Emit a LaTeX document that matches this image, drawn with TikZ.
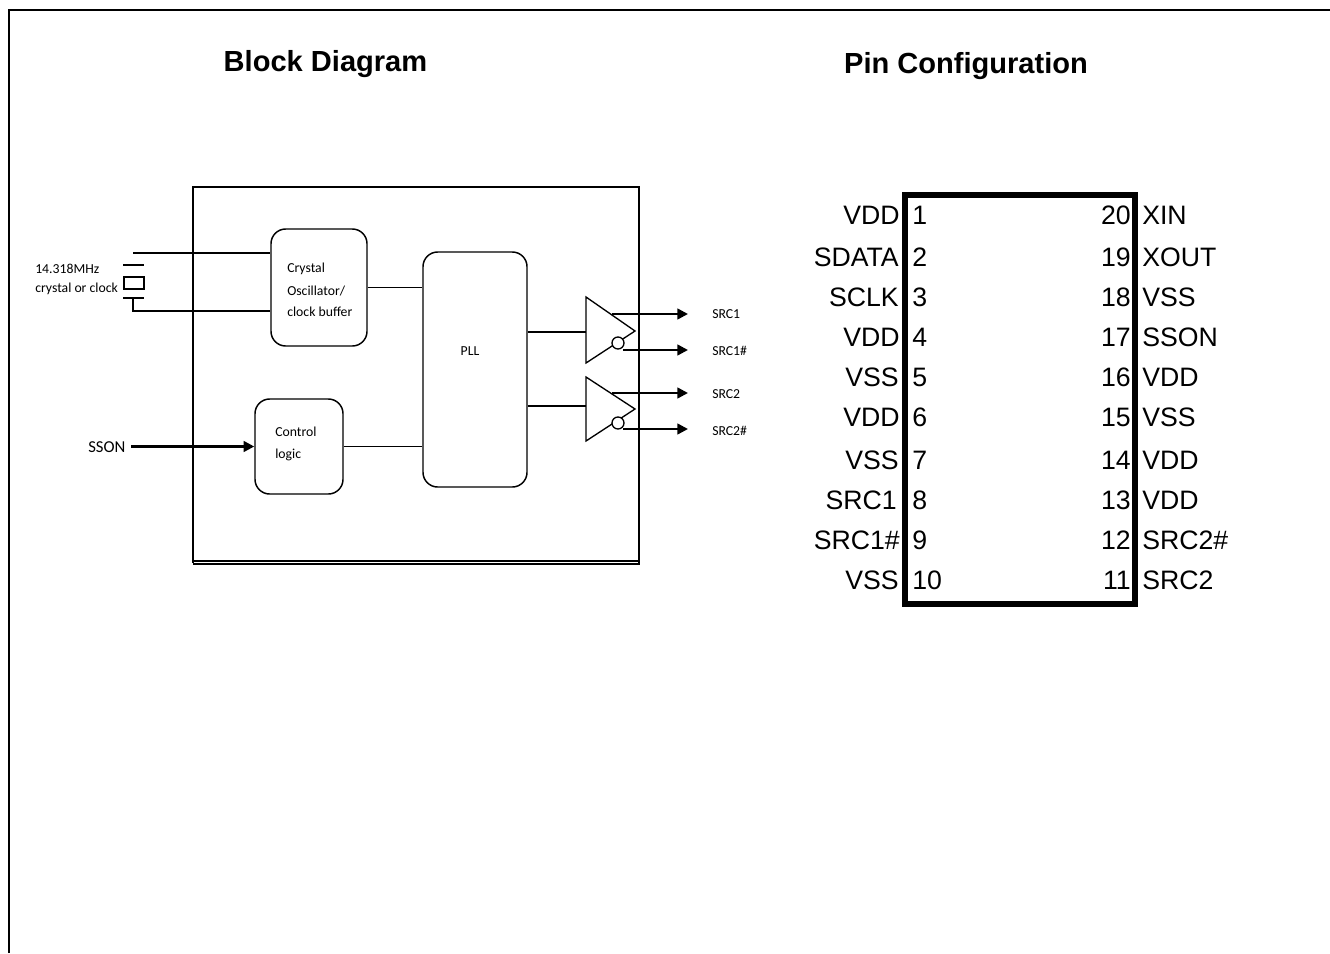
\documentclass[tikz,border=0pt]{standalone}
\usepackage{fontspec}
\setmainfont{Liberation Sans}
\newfontfamily\smallfont{Carlito}
\usetikzlibrary{arrows.meta, positioning}
\tikzset{
  thinline/.style={line width=1pt},
  signal/.style={line width=1.8pt, ->},
  blockbox/.style={draw, line width=1.1pt, rounded corners=11pt, inner sep=0pt},
  smalltext/.style={font=\smallfont\fontsize{10.3}{12}\selectfont, inner sep=0pt},
  pintext/.style={font=\fontsize{20}{20}\selectfont, inner sep=0pt, text height=14pt, text depth=0pt},
  leftlabel/.style={pintext, anchor=east},
  rightlabel/.style={pintext, anchor=west},
  titletext/.style={font=\bfseries\fontsize{21.8}{22}\selectfont, inner sep=0pt}
}
\begin{document}
\begin{tikzpicture}[x=0.75pt, y=-0.75pt, >={Stealth[length=8pt,width=8pt,inset=0pt]}]
      \useasboundingbox (0,0) rectangle (1330,953);
      % page frame and titles
      \draw[line width=1.5pt] (9,953) -- (9,10) -- (1330,10);
      \node[titletext] (blocktitle) at (325.5,64) {Block Diagram};
      \node[titletext] (pintitle) at (966,66) {Pin Configuration};

      % block diagram
      \draw[thinline] (193,563) -- (193,187) -- (639,187) -- (639,563);
      \draw[thinline] (193,561) -- (639,561);
      \draw[line width=1.5pt] (193,564) -- (640,564);
      \node[blockbox, minimum width=72pt, minimum height=87.75pt] (xtal) at (319,287.5) {};
      \node[blockbox, minimum width=66pt, minimum height=71.25pt] (ctrl) at (299,446.5) {};
      \node[blockbox, minimum width=78pt, minimum height=176.25pt] (pll) at (475,369.5) {};
      \node[smalltext, anchor=west] (xtala) at (287,269) {Crystal};
      \node[smalltext, anchor=west] (xtalb) at (287,291) {Oscillator/};
      \node[smalltext, anchor=west] (xtalc) at (287,312) {clock buffer};
      \node[smalltext, anchor=west] (ctrla) at (275,432) {Control};
      \node[smalltext, anchor=west] (ctrlb) at (275,455) {logic};
      \node[smalltext] (plltext) at (470,351) {PLL};
      \draw[thinline] (xtal.east) -- (xtal.east -| pll.west);
      \draw[thinline] (ctrl.east) -- (ctrl.east -| pll.west);

      % crystal
      \node[smalltext, anchor=west] (freq) at (35,269) {14.318MHz};
      \node[smalltext, anchor=west] (xlabel) at (35,289) {crystal or clock};
      \node[draw, thinline, minimum width=15pt, minimum height=9pt, inner sep=0pt] (quartz) at (134,283) {};
      \coordinate (xtop) at (133,253);
      \coordinate (xbot) at (133,298);
      \coordinate (xlow) at (133,311);
      \draw[thinline] (123,265) -- (144,265);
      \draw[thinline] (123,298) -- (144,298);
      \draw[thinline] (xtop) -- (xtop -| xtal.west);
      \draw[thinline] (xbot) -- (xlow) -- (xlow -| xtal.west);

      % control input
      \node[smalltext, anchor=west, font=\smallfont\fontsize{12.5}{12}\selectfont] (sson) at (88,447) {SSON};
      \coordinate (ssonin) at (131,446.5);
      \draw[signal] (ssonin) -- (ctrl.west);

      % output buffers
      \coordinate (bufa) at (586,332);
      \coordinate (bufb) at (586,406);
      \draw[thinline] (586,297) -- (586,363) -- (635,331) -- cycle;
      \draw[thinline] (586,377) -- (586,441) -- (635,409) -- cycle;
      \draw[thinline] (pll.east |- bufa) -- (bufa);
      \draw[thinline] (pll.east |- bufb) -- (bufb);
      \node[draw, thinline, circle, fill=white, minimum size=9pt, inner sep=0pt] (inva) at (618,343) {};
      \node[draw, thinline, circle, fill=white, minimum size=9pt, inner sep=0pt] (invb) at (618,423) {};
      \coordinate (outa) at (612,314);
      \coordinate (outb) at (623,350);
      \coordinate (outc) at (612,393);
      \coordinate (outd) at (623,429);
      \node[smalltext, anchor=west] (srca) at (712,314) {SRC1};
      \node[smalltext, anchor=west] (srcb) at (712,351) {SRC1\#};
      \node[smalltext, anchor=west] (srcc) at (712,394) {SRC2};
      \node[smalltext, anchor=west] (srcd) at (712,431) {SRC2\#};
      \coordinate (enda) at (688,314);
      \coordinate (endb) at (688,350);
      \coordinate (endc) at (688,393);
      \coordinate (endd) at (688,429);
      \draw[signal] (outa) -- (enda);
      \draw[signal] (outb) -- (endb);
      \draw[signal] (outc) -- (endc);
      \draw[signal] (outd) -- (endd);

      % pin configuration
      \node[draw, line width=4.5pt, minimum width=172.5pt, minimum height=306.75pt, inner sep=0pt] (chip) at (1020,399.5) {};
      \node[leftlabel] (la) at (900,215) {VDD}; \node[rightlabel] (na) at (912,215) {1};
      \node[leftlabel] (lb) at (899,257) {SDATA}; \node[rightlabel] (nb) at (912,257) {2};
      \node[leftlabel] (lc) at (899,297) {SCLK}; \node[rightlabel] (nc) at (912,297) {3};
      \node[leftlabel] (ld) at (900,337) {VDD}; \node[rightlabel] (nd) at (912,337) {4};
      \node[leftlabel] (le) at (899,377) {VSS}; \node[rightlabel] (ne) at (912,377) {5};
      \node[leftlabel] (lf) at (900,417) {VDD}; \node[rightlabel] (nf) at (912,417) {6};
      \node[leftlabel] (lg) at (899,460) {VSS}; \node[rightlabel] (ng) at (912,460) {7};
      \node[leftlabel] (lh) at (897,500) {SRC1}; \node[rightlabel] (nh) at (912,500) {8};
      \node[leftlabel] (li) at (900,540) {SRC1\#}; \node[rightlabel] (ni) at (912,540) {9};
      \node[leftlabel] (lj) at (899,580) {VSS}; \node[rightlabel] (nj) at (912,580) {10};
      \node[leftlabel] (nk) at (1131,215) {20}; \node[rightlabel] (rk) at (1142,215) {XIN};
      \node[leftlabel] (nl) at (1131,257) {19}; \node[rightlabel] (rl) at (1142,257) {XOUT};
      \node[leftlabel] (nm) at (1131,297) {18}; \node[rightlabel] (rm) at (1142,297) {VSS};
      \node[leftlabel] (nn) at (1131,337) {17}; \node[rightlabel] (rn) at (1142,337) {SSON};
      \node[leftlabel] (no) at (1131,377) {16}; \node[rightlabel] (ro) at (1142,377) {VDD};
      \node[leftlabel] (np) at (1131,417) {15}; \node[rightlabel] (rp) at (1142,417) {VSS};
      \node[leftlabel] (nq) at (1131,460) {14}; \node[rightlabel] (rq) at (1142,460) {VDD};
      \node[leftlabel] (nr) at (1131,500) {13}; \node[rightlabel] (rr) at (1142,500) {VDD};
      \node[leftlabel] (ns) at (1131,540) {12}; \node[rightlabel] (rs) at (1142,540) {SRC2\#};
      \node[leftlabel] (nt) at (1131,580) {11}; \node[rightlabel] (rt) at (1142,580) {SRC2};
    \end{tikzpicture}
\end{document}
